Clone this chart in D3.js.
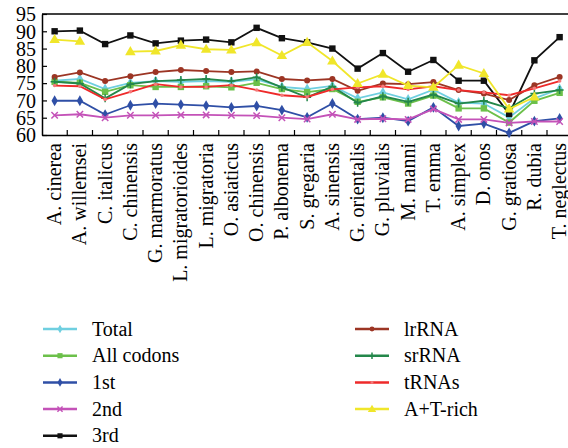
<!DOCTYPE html>
<html>
<head>
<meta charset="utf-8">
<script src="https://cdn.jsdelivr.net/npm/d3@7"></script>
<style>
  body { margin: 0; background: #fff; }
  svg text { font-family: "Liberation Serif", "DejaVu Serif", serif !important; fill: #000; }
</style>
</head>
<body>
<svg id="chart" width="568" height="448" font-family="Liberation Serif, DejaVu Serif, serif"></svg>
<script>
var species = ["A. cinerea", "A. willemsei", "C. italicus", "C. chinensis", "G. marmoratus",
  "L. migratorioides", "L. migratoria", "O. asiaticus", "O. chinensis", "P. albonema",
  "S. gregaria", "A. sinensis", "G. orientalis", "G. pluvialis", "M. manni", "T. emma",
  "A. simplex", "D. onos", "G. gratiosa", "R. dubia", "T. neglectus"];

var yTicks = [60, 65, 70, 75, 80, 85, 90, 95];

// A+T content (%) per region, one value per species (null = not available)
var total     = [75.7, 76.2, 73.3, 75.1, 75.6, 75.4, 75.6, 75.4, 76.1, 73.9, 73.3, 74.2, 70.6, 72.3, 70.3, 73.1, 69.4, 69.1, 65.1, 70.6, 73.3];
var allCodons = [75.4, 75.1, 72.5, 74.4, 73.9, 73.9, 74.1, 73.8, 75.1, 73.3, 72.4, 73.3, 69.6, 70.9, 69.1, 71.4, 67.7, 67.7, 63.6, 69.9, 72.2];
var first     = [69.9, 69.9, 65.9, 68.6, 69.1, 68.8, 68.5, 68.0, 68.4, 67.2, 65.1, 69.1, 64.6, 65.0, 64.0, 68.0, 62.6, 63.3, 60.6, 64.0, 64.8];
var second    = [65.7, 66.0, 65.0, 65.7, 65.7, 65.8, 65.8, 65.7, 65.6, 65.0, 64.6, 66.0, 64.5, 64.7, 64.5, 67.5, 64.5, 64.5, 63.5, 63.9, 63.9];
var third     = [90.0, 90.2, 86.3, 88.8, 86.5, 87.3, 87.6, 86.8, 91.0, 88.0, 86.8, 85.0, 79.2, 83.7, 78.3, 81.7, 75.7, 75.7, 66.1, 81.6, 88.3];
var lrRNA     = [76.8, 78.1, 75.6, 77.0, 78.2, 78.8, 78.5, 78.2, 78.4, 76.2, 75.8, 76.2, 72.8, 74.9, 74.7, 75.3, 73.0, 72.0, 70.1, 74.4, 76.8];
var srRNA     = [75.4, 74.9, 70.6, 74.7, 75.6, 75.9, 76.2, 75.6, 76.7, 73.8, 70.9, 74.0, 69.3, 71.2, 69.6, 71.7, 69.1, 69.9, 67.7, 72.0, 73.0];
var tRNAs     = [74.3, 74.1, 70.3, 72.5, 74.7, 73.9, 73.9, 74.4, 73.0, 71.5, 71.0, 73.2, 73.8, 74.1, 73.2, 74.1, 73.0, 72.3, 71.5, 73.5, 75.6];
var atRich    = [87.6, 87.1, null, 84.1, 84.3, 86.0, 84.8, 84.6, 86.7, 83.0, 86.8, 81.4, 74.9, 77.6, 74.3, 73.8, 80.2, 77.8, 67.5, 71.0, null];

var seriesNames = ["Total", "All codons", "1st", "2nd", "3rd", "lrRNA", "srRNA", "tRNAs", "A+T-rich"];
var seriesValues = [total, allCodons, first, second, third, lrRNA, srRNA, tRNAs, atRich];

var colors = ["#6fcfe0", "#6cc04a", "#2f4fa6", "#c452b8", "#111111", "#9c3524", "#23874a", "#ee2a2a", "#f0e62a"];
var markers = ["diamond", "square", "diamond", "times", "square", "circle", "plus", "dot", "triangle"];

var serif = "'Liberation Serif', 'DejaVu Serif', serif";
var width = 568, height = 448;
var margin = { top: 14, left: 42, bottom: 135 };

var svg = d3.select("svg#chart");

/* Scales */
var xScale = d3.scaleBand()
  .domain(species)
  .range([margin.left, margin.left + species.length * 25.25]);

var yScale = d3.scaleLinear()
  .domain([60, 95])
  .range([margin.bottom, margin.top]);

var cx = d => xScale(d) + xScale.bandwidth() / 2;

/* Frame */
svg.append("line")
  .attr("x1", margin.left).attr("x2", width + 10)
  .attr("y1", margin.top).attr("y2", margin.top)
  .attr("stroke", "#000").attr("stroke-width", 1.5);

/* Axes */
var xAxis = svg.append("g")
  .attr("transform", "translate(0," + margin.bottom + ")")
  .call(d3.axisBottom(xScale).tickSize(0).tickFormat(""));
xAxis.select(".domain").attr("stroke-width", 1.5);

// small inward ticks between categories
svg.append("g").selectAll("line")
  .data(species.slice(1)).enter()
  .append("line")
  .attr("x1", d => xScale(d)).attr("x2", d => xScale(d))
  .attr("y1", margin.bottom).attr("y2", margin.bottom - 5)
  .attr("stroke", "#000").attr("stroke-width", 1.2);

svg.append("g").selectAll("text")
  .data(species).enter()
  .append("text")
  .attr("transform", d => "translate(" + cx(d) + "," + (margin.bottom + 8) + ") rotate(-90)")
  .attr("text-anchor", "end")
  .attr("dy", "0.33em")
  .style("font-family", serif)
  .style("font-size", "20px")
  .text(d => d);

var yAxis = svg.append("g")
  .attr("transform", "translate(" + margin.left + ",0)")
  .call(d3.axisLeft(yScale).tickValues(yTicks).tickSizeInner(-5).tickSizeOuter(0).tickPadding(6));
yAxis.attr("font-family", null);
yAxis.select(".domain").attr("stroke-width", 1.5);
yAxis.selectAll(".tick line").attr("stroke-width", 1.2);
yAxis.selectAll(".tick text")
  .style("font-family", serif)
  .style("font-size", "20px")
  .attr("dy", "0.34em");

/* Markers */
function drawMarker(g, type, color, x, y, scale) {
  var s = scale || 1;
  if (type === "square") {
    g.append("rect").attr("x", x - 3.2 * s).attr("y", y - 3.2 * s)
      .attr("width", 6.4 * s).attr("height", 6.4 * s).attr("fill", color);
  } else if (type === "diamond") {
    g.append("path").attr("d", d3.symbol(d3.symbolDiamond, 34 * s * s)())
      .attr("transform", "translate(" + x + "," + y + ")").attr("fill", color);
  } else if (type === "triangle") {
    g.append("path").attr("d", d3.symbol(d3.symbolTriangle, 48 * s * s)())
      .attr("transform", "translate(" + x + "," + (y + 0.5) + ")").attr("fill", color);
  } else if (type === "circle") {
    g.append("circle").attr("cx", x).attr("cy", y).attr("r", 3 * s).attr("fill", color);
  } else if (type === "dot") {
    g.append("circle").attr("cx", x).attr("cy", y).attr("r", 1.8 * s).attr("fill", "#f47a7a");
  } else if (type === "times") {
    var r = 3.2 * s;
    g.append("path").attr("d", "M" + (x - r) + "," + (y - r) + "L" + (x + r) + "," + (y + r) +
      "M" + (x - r) + "," + (y + r) + "L" + (x + r) + "," + (y - r))
      .attr("stroke", color).attr("stroke-width", 1.5).attr("fill", "none");
  } else if (type === "plus") {
    var p = 4 * s;
    g.append("path").attr("d", "M" + (x - p) + "," + y + "L" + (x + p) + "," + y +
      "M" + x + "," + (y - p) + "L" + x + "," + (y + p))
      .attr("stroke", color).attr("stroke-width", 1.5).attr("fill", "none");
  }
}

/* Lines */
var line = d3.line()
  .defined(d => d.v !== null)
  .x(d => cx(d.name))
  .y(d => yScale(d.v));

var lines = svg.append("g").attr("class", "lines");

seriesValues.forEach(function (vals, i) {
  var pts = species.map((name, j) => ({ name: name, v: vals[j] }));
  var g = lines.append("g").attr("class", "line-group");
  g.append("path")
    .attr("d", line(pts))
    .attr("fill", "none")
    .attr("stroke", colors[i])
    .attr("stroke-width", 1.8);
  pts.filter(d => d.v !== null).forEach(function (d) {
    drawMarker(g, markers[i], colors[i], cx(d.name), yScale(d.v));
  });
});

/* Legend */
var legend = svg.append("g").attr("class", "legend");
seriesNames.forEach(function (name, i) {
  var col = i < 5 ? 0 : 1;
  var row = i < 5 ? i : i - 5;
  var x0 = col === 0 ? 43 : 355;
  var y0 = 329 + row * 26.7;
  var g = legend.append("g");
  g.append("line")
    .attr("x1", x0).attr("x2", x0 + 34)
    .attr("y1", y0).attr("y2", y0)
    .attr("stroke", colors[i]).attr("stroke-width", 2.5);
  drawMarker(g, markers[i], colors[i], x0 + 17, y0, 0.8);
  g.append("text")
    .attr("x", x0 + 49).attr("y", y0)
    .attr("dy", "0.33em")
    .style("font-family", serif)
    .style("font-size", "20px")
    .text(name);
});
</script>
</body>
</html>
